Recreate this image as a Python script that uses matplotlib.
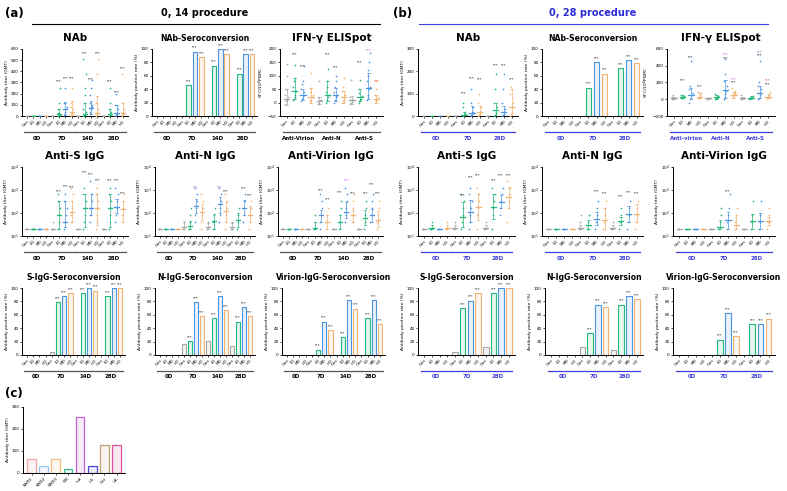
import matplotlib
matplotlib.use("Agg")
import matplotlib.pyplot as plt
from matplotlib.transforms import ScaledTranslation

W, H = 787, 491
fig = plt.figure(figsize=(W / 100, H / 100), dpi=100)

dose = ["Con", "LD", "MD", "HD"]
dose_col = ["#a6a6a6", "#22b877", "#4b94e0", "#f2b273"]
days_a = ["0D", "7D", "14D", "28D"]
days_b = ["0D", "7D", "28D"]
ifn_a = ["Anti-Virion", "Anti-N", "Anti-S"]
ifn_b = ["Anti-virion", "Anti-N", "Anti-S"]
PURPLE, RED = "#b040d8", "#e03030"

# ---------------- (a) 0, 14 procedure ----------------
a_nab_mean = [0, 0, 0, 0, 0, 20, 60, 40, 0, 20, 75, 30, 0, 15, 30, 25]
a_nab_lo = [0, 0, 0, 0, 0, 0, 10, 0, 0, 0, 20, 0, 0, 0, 0, 0]
a_nab_hi = [0, 0, 0, 0, 0, 60, 125, 130, 0, 120, 130, 180, 0, 60, 100, 120]
a_nab_star = [0, 0, 0, 0, 0, 310, 340, 340, 0, 560, 330, 560, 0, 310, 210, 430]
a_nab_pts = [
    [0, 0, 0, 0], [0, 0, 0, 0, 0], [0, 0, 0, 0], [0, 0, 0, 0],
    [0, 0, 0, 0], [0, 0, 5, 10, 20, 30, 60, 120, 250], [10, 20, 40, 60, 80, 120, 120, 250], [0, 10, 20, 30, 60, 80, 120, 250],
    [0, 0, 0, 0], [0, 5, 10, 20, 40, 60, 120, 190, 250, 380, 510], [20, 40, 60, 80, 100, 120, 190, 250, 320], [0, 10, 20, 30, 60, 120, 180, 380, 510],
    [0, 0, 0, 0], [0, 5, 10, 20, 40, 60, 120, 250], [0, 10, 20, 30, 60, 100, 200], [0, 10, 20, 40, 60, 120, 380],
]
a_nab_sero = [0, 0, 0, 0, 0, 46, 96, 88, 0, 75, 100, 92, 0, 63, 92, 92]

a_ifn_mean = [15, 42, 30, 20, 5, 30, 28, 20, 8, 22, 55, 15]
a_ifn_lo = [-10, 15, 10, 0, -5, 5, 5, 0, -5, 5, 15, 0]
a_ifn_hi = [50, 90, 50, 55, 20, 80, 55, 45, 25, 50, 110, 30]
a_ifn_star = [0, 180, 135, 0, 0, 180, 130, 0, 0, 150, 195, 80]
a_ifn_star_col = ["k", "k", "k", "k", "k", "k", "k", "k", "k", "k", PURPLE, RED]
a_ifn_pts = [
    [-5, 5, 10, 15, 20, 30, 50, 100, 145], [10, 15, 20, 30, 45, 60, 80, 90, 140],
    [5, 15, 20, 30, 40, 50, 70, 80, 135], [0, 5, 10, 20, 30, 40, 55, 110],
    [-5, 0, 5, 8, 10, 20, 80], [0, 5, 10, 20, 30, 40, 60, 80, 125],
    [0, 10, 20, 25, 30, 40, 60, 80, 100], [0, 5, 10, 20, 30, 45, 60, 90],
    [-5, 0, 5, 8, 10, 20, 85], [0, 5, 10, 15, 25, 35, 50, 85],
    [10, 20, 30, 50, 60, 80, 100, 120, 150, 185], [0, 5, 10, 15, 20, 30, 50, 80],
]

a_s_mean = [20, 20, 20, 20, 20, 80, 40, 110, 20, 160, 160, 160, 20, 160, 185, 150]
a_s_lo = [20, 20, 20, 20, 20, 20, 25, 40, 20, 25, 80, 30, 20, 25, 100, 40]
a_s_hi = [20, 20, 20, 20, 20, 320, 320, 320, 20, 700, 640, 640, 20, 700, 400, 330]
a_s_star = [0, 0, 0, 0, 0, 830, 1450, 1270, 0, 6000, 5000, 2600, 0, 2600, 2600, 700]
a_s_pts = [
    [20, 20, 20], [20, 20, 20, 20], [20, 20, 20], [20, 20, 20, 20],
    [20, 20, 20, 40], [20, 20, 40, 80, 160, 320, 640], [20, 40, 40, 80, 160, 320, 640], [40, 80, 160, 320, 640, 1280],
    [20, 20, 20], [20, 40, 80, 160, 320, 640, 1280], [40, 80, 160, 320, 640, 2560], [20, 40, 80, 160, 320, 640, 1280],
    [20, 20, 20], [20, 40, 80, 160, 320, 640, 1280], [40, 80, 160, 320, 640, 1280], [40, 80, 160, 320, 640],
]

a_n_mean = [20, 20, 20, 20, 25, 28, 200, 110, 24, 45, 250, 120, 24, 50, 170, 80]
a_n_lo = [20, 20, 20, 20, 20, 20, 100, 50, 20, 20, 100, 40, 20, 25, 80, 40]
a_n_hi = [20, 20, 20, 20, 40, 45, 400, 250, 35, 90, 500, 300, 35, 100, 350, 200]
a_n_star = [0, 0, 0, 0, 0, 0, 1300, 0, 0, 0, 1300, 900, 0, 0, 1200, 600]
a_n_star_col = ["k"] * 6 + [PURPLE] + ["k"] * 3 + [PURPLE] + ["k"] * 5
a_n_pts = [
    [20, 20, 20], [20, 20, 20], [20, 20, 20], [20, 20, 20],
    [20, 20, 40, 40], [20, 20, 40, 80, 160], [40, 80, 160, 320, 640, 1280], [20, 40, 80, 160, 320, 640],
    [20, 20, 40], [20, 40, 80, 160], [40, 80, 160, 320, 640, 1280], [20, 40, 80, 160, 320, 640],
    [20, 20, 40], [20, 40, 80, 160], [40, 80, 160, 320, 640], [20, 40, 80, 160, 320],
]

a_v_mean = [20, 20, 20, 20, 20, 22, 80, 40, 20, 40, 110, 80, 20, 60, 80, 50]
a_v_lo = [20, 20, 20, 20, 20, 20, 40, 20, 20, 20, 60, 40, 20, 30, 40, 25]
a_v_hi = [20, 20, 20, 20, 20, 40, 130, 80, 20, 80, 300, 130, 20, 130, 150, 120]
a_v_star = [0, 0, 0, 0, 0, 0, 1000, 400, 0, 800, 2500, 700, 0, 700, 1800, 700]
a_v_star_col = ["k"] * 10 + [PURPLE] + ["k"] * 5
a_v_pts = [
    [20, 20, 20], [20, 20, 20], [20, 20, 20], [20, 20, 20],
    [20, 20, 20], [20, 20, 40, 80], [20, 40, 80, 160, 320, 640], [20, 40, 80, 160],
    [20, 20, 20], [20, 40, 80, 160, 320], [40, 80, 160, 320, 640, 1280], [40, 80, 160, 320, 640],
    [20, 20, 20], [20, 40, 80, 160, 320], [40, 80, 160, 320, 640], [20, 40, 80, 160, 320],
]

a_s_sero = [0, 0, 0, 0, 4, 79, 88, 92, 0, 92, 100, 96, 0, 88, 100, 100]
a_n_sero = [0, 0, 0, 0, 17, 21, 79, 58, 21, 55, 88, 67, 13, 50, 71, 58]
a_v_sero = [0, 0, 0, 0, 0, 8, 50, 37, 0, 27, 82, 69, 0, 55, 82, 46]

# ---------------- (b) 0, 28 procedure ----------------
b_nab_mean = [0, 0, 0, 0, 0, 5, 15, 20, 0, 25, 20, 40]
b_nab_lo = [0, 0, 0, 0, 0, 0, 0, 0, 0, 0, 0, 0]
b_nab_hi = [0, 0, 0, 0, 0, 20, 45, 45, 0, 60, 45, 120]
b_nab_star = [0, 0, 0, 0, 0, 100, 170, 165, 0, 225, 225, 165]
b_nab_pts = [
    [0, 0, 0], [0, 0, 0], [0, 0, 0], [0, 0, 0],
    [0, 0, 0], [0, 0, 5, 10, 20, 40, 60], [0, 5, 10, 20, 40, 60, 120], [0, 5, 10, 20, 40, 60, 100],
    [0, 0, 0], [0, 5, 10, 20, 40, 60, 120, 190], [0, 5, 10, 20, 30, 60, 120, 190], [0, 10, 20, 40, 60, 100, 130],
]
b_nab_sero = [0, 0, 0, 0, 0, 42, 80, 63, 0, 71, 83, 79]

b_ifn_mean = [10, 25, 50, 30, 10, 25, 110, 50, 10, 20, 80, 30]
b_ifn_lo = [0, 10, 0, 10, 0, 5, 10, 20, 0, 5, 10, 15]
b_ifn_hi = [30, 50, 140, 70, 20, 50, 230, 90, 25, 40, 160, 60]
b_ifn_star = [0, 230, 500, 150, 0, 0, 540, 240, 0, 0, 560, 230]
b_ifn_star_col = ["k", "k", "k", "k", "k", "k", PURPLE, PURPLE, "k", "k", PURPLE, RED]
b_ifn_star2 = [0, 0, 0, 0, 0, 0, 490, 200, 0, 0, 520, 180]
b_ifn_pts = [
    [0, 5, 10, 15, 20, 30, 50], [10, 15, 20, 30, 40, 50], [-40, 0, 20, 50, 80, 120, 160, 460], [10, 20, 30, 50, 70, 90],
    [0, 5, 10, 15, 20], [5, 10, 20, 30, 40, 60], [0, 30, 60, 100, 160, 220, 300, 480], [20, 40, 60, 80, 100, 140],
    [0, 5, 10, 15, 20, 50], [5, 10, 20, 30, 40], [0, 20, 50, 80, 120, 160, 200, 460], [10, 20, 30, 50, 90],
]

b_s_mean = [20, 22, 20, 22, 22, 70, 110, 185, 22, 185, 310, 500]
b_s_lo = [20, 20, 20, 20, 20, 25, 40, 50, 20, 55, 160, 160]
b_s_hi = [20, 30, 20, 30, 30, 310, 360, 700, 30, 700, 600, 1350]
b_s_star = [0, 0, 0, 0, 0, 590, 3700, 4300, 0, 2600, 4300, 4300]
b_s_pts = [
    [20, 20, 20], [20, 20, 40], [20, 20, 20], [20, 20, 40],
    [20, 20, 40], [20, 40, 80, 160, 320, 640], [20, 40, 80, 160, 320, 640, 1280], [20, 80, 160, 320, 640, 1280],
    [20, 20, 40], [20, 80, 160, 320, 640, 1280], [80, 160, 320, 640, 1280], [40, 160, 320, 640, 1280, 2560],
]

b_n_mean = [20, 20, 20, 20, 22, 30, 55, 50, 22, 45, 90, 90]
b_n_lo = [20, 20, 20, 20, 20, 20, 30, 20, 20, 30, 40, 40]
b_n_hi = [20, 20, 20, 20, 30, 50, 110, 160, 30, 70, 200, 250]
b_n_star = [0, 0, 0, 0, 0, 0, 830, 700, 0, 540, 770, 700]
b_n_pts = [
    [20, 20, 20], [20, 20, 20], [20, 20, 20], [20, 20, 20],
    [20, 20, 40, 80], [20, 20, 40, 80], [20, 40, 80, 160, 320], [20, 40, 80, 160, 320],
    [20, 20, 40], [20, 40, 80, 160], [20, 40, 80, 160, 320], [20, 40, 80, 160, 320],
]

b_v_mean = [20, 20, 20, 20, 20, 25, 50, 30, 20, 45, 45, 45]
b_v_lo = [20, 20, 20, 20, 20, 20, 20, 20, 20, 20, 20, 30]
b_v_hi = [20, 20, 20, 20, 20, 50, 110, 70, 20, 90, 100, 70]
b_v_star = [0, 0, 0, 0, 0, 0, 850, 0, 0, 0, 0, 0]
b_v_pts = [
    [20, 20, 20], [20, 20, 20], [20, 20, 20], [20, 20, 20],
    [20, 20, 20], [20, 20, 40, 80, 160], [20, 40, 80, 160, 640], [20, 40, 80, 160],
    [20, 20, 20], [20, 40, 80, 320], [20, 40, 80, 320], [20, 40, 80, 160],
]

b_s_sero = [0, 0, 0, 0, 4, 70, 81, 92, 12, 92, 100, 100]
b_n_sero = [0, 0, 0, 0, 12, 33, 75, 71, 8, 75, 88, 83]
b_v_sero = [0, 0, 0, 0, 0, 23, 62, 28, 0, 46, 46, 54]

# ---------------- (c) ----------------
c_names = ["SW01", "SW02", "SW03", "WK", "Ind", "US", "Cnt", "UK"]
c_vals = [64, 32, 64, 16, 256, 32, 128, 128]
c_cols = ["#f4a3a8", "#9cc8f0", "#f7c27e", "#3cc08f", "#c45fd0", "#4a4ad0", "#c4a074", "#e2529a"]

A_LINE, B_LINE = "#555555", "#3f3fe0"


def box(x0, y0, x1, y1):
    return fig.add_axes([x0 / W, 1 - y1 / H, (x1 - x0) / W, (y1 - y0) / H])


def frame(ax, groups, line_col, text_col, ylabel, title, tsize=7.5):
    n = 4 * len(groups)
    ax.set_xlim(-0.8, n - 0.2)
    ax.set_xticks(range(n))
    ax.set_xticklabels(dose * len(groups), rotation=45, ha="right", rotation_mode="anchor")
    ax.tick_params(length=1.5, width=0.5, pad=1, labelsize=3)
    for s in ["top", "right"]:
        ax.spines[s].set_visible(False)
    for s in ["left", "bottom"]:
        ax.spines[s].set_linewidth(0.7)
    ax.set_ylabel(ylabel, fontsize=3.2, labelpad=1)
    ax.set_title(title, fontsize=tsize, fontweight="bold", pad=6)
    tl = ax.get_xaxis_transform() + ScaledTranslation(0, -0.16, fig.dpi_scale_trans)
    tt = ax.get_xaxis_transform() + ScaledTranslation(0, -0.22, fig.dpi_scale_trans)
    for i, g in enumerate(groups):
        ax.plot([4 * i - 0.45, 4 * i + 3.45], [0, 0], transform=tl, color=line_col,
                lw=0.9, clip_on=False)
        ax.text(4 * i + 1.5, 0, g, transform=tt, ha="center", va="center",
                fontsize=4, fontweight="bold", color=text_col)


def dots(ax, mean, lo, hi, pts, star, star_col=None, star2=None):
    for i in range(len(mean)):
        c = dose_col[i % 4]
        p = pts[i]
        xs = [i + ((k % 5) - 2) * 0.09 for k in range(len(p))]
        ax.scatter(xs, p, s=1.5, color=c, lw=0, zorder=3)
        ax.plot([i - 0.32, i + 0.32], [mean[i], mean[i]], color=c, lw=0.9, zorder=4)
        ax.plot([i, i], [lo[i], hi[i]], color=c, lw=0.5, zorder=4)
        for v in (lo[i], hi[i]):
            ax.plot([i - 0.16, i + 0.16], [v, v], color=c, lw=0.5, zorder=4)
        if star[i]:
            sc = star_col[i] if star_col else "k"
            ax.text(i, star[i], "***", fontsize=2.6, ha="center", va="center", color=sc)
        if star2 and star2[i]:
            ax.text(i, star2[i], "***", fontsize=2.6, ha="center", va="center", color="k")


def bars(ax, vals):
    for i, v in enumerate(vals):
        c = dose_col[i % 4]
        ax.bar(i, v, width=0.72, color=c, alpha=0.12, lw=0)
        ax.bar(i, v, width=0.72, fill=False, edgecolor=c, lw=0.8)
        if v > 0 and i % 4 != 0:
            ax.text(i, v + 3, "***", fontsize=2.6, ha="center", va="bottom")
    ax.set_ylim(0, 100)
    ax.set_yticks([0, 20, 40, 60, 80, 100])


def logaxis(ax):
    ax.set_yscale("log")
    ax.set_ylim(10, 10000)
    ax.set_yticks([10, 100, 1000, 10000])
    ax.set_yticklabels(["10$^1$", "10$^2$", "10$^3$", "10$^4$"])
    ax.minorticks_off()
    ax.tick_params(axis="y", labelsize=3)


GMT = "Antibody titer (GMT)"
POS = "Antibody positive rate (%)"
SFC = "SFC/10$^6$PBMC"
ST = 5.6  # seroconversion title size

# headers
fig.text(5 / W, 1 - 13 / H, "(a)", fontsize=8.5, fontweight="bold", va="center")
fig.text(205 / W, 1 - 13 / H, "0, 14 procedure", fontsize=7, fontweight="bold", ha="center", va="center")
fig.add_artist(plt.Line2D([32 / W, 380 / W], [1 - 24 / H, 1 - 24 / H], color="k", lw=0.8))
fig.text(393 / W, 1 - 13 / H, "(b)", fontsize=8.5, fontweight="bold", va="center")
fig.text(593 / W, 1 - 13 / H, "0, 28 procedure", fontsize=7, fontweight="bold", ha="center",
         va="center", color="#2b2bd6")
fig.add_artist(plt.Line2D([419 / W, 768 / W], [1 - 24 / H, 1 - 24 / H], color=B_LINE, lw=0.8))

# ---- (a) row 1
ax = box(22, 49, 128, 116)
dots(ax, a_nab_mean, a_nab_lo, a_nab_hi, a_nab_pts, a_nab_star)
ax.set_ylim(0, 600)
ax.set_yticks(range(0, 601, 100))
frame(ax, days_a, A_LINE, "k", GMT, "NAb")

ax = box(152, 49, 257, 116)
bars(ax, a_nab_sero)
frame(ax, days_a, A_LINE, "k", POS, "NAb-Seroconversion", ST)

ax = box(280, 49, 383, 116)
dots(ax, a_ifn_mean, a_ifn_lo, a_ifn_hi, a_ifn_pts, a_ifn_star, a_ifn_star_col)
ax.set_ylim(-50, 200)
ax.set_yticks(range(-50, 201, 50))
frame(ax, ifn_a, A_LINE, "k", SFC, "IFN-γ ELISpot")

# ---- (a) row 2
ax = box(22, 167, 128, 236)
dots(ax, a_s_mean, a_s_lo, a_s_hi, a_s_pts, a_s_star)
logaxis(ax)
frame(ax, days_a, A_LINE, "k", GMT, "Anti-S IgG")

ax = box(155, 167, 255, 236)
dots(ax, a_n_mean, a_n_lo, a_n_hi, a_n_pts, a_n_star, a_n_star_col)
logaxis(ax)
frame(ax, days_a, A_LINE, "k", GMT, "Anti-N IgG")

ax = box(278, 167, 383, 236)
dots(ax, a_v_mean, a_v_lo, a_v_hi, a_v_pts, a_v_star, a_v_star_col)
logaxis(ax)
frame(ax, days_a, A_LINE, "k", GMT, "Anti-Virion IgG")

# ---- (a) row 3
ax = box(22, 288, 125, 355)
bars(ax, a_s_sero)
frame(ax, days_a, A_LINE, "k", POS, "S-IgG-Seroconversion", ST)

ax = box(155, 288, 255, 355)
bars(ax, a_n_sero)
frame(ax, days_a, A_LINE, "k", POS, "N-IgG-Seroconversion", ST)

ax = box(282, 288, 385, 355)
bars(ax, a_v_sero)
frame(ax, days_a, A_LINE, "k", POS, "Virion-IgG-Seroconversion", ST)

# ---- (b) row 1
ax = box(418, 49, 518, 116)
dots(ax, b_nab_mean, b_nab_lo, b_nab_hi, b_nab_pts, b_nab_star)
ax.set_ylim(0, 300)
ax.set_yticks([0, 100, 200, 300])
frame(ax, days_b, B_LINE, B_LINE, GMT, "NAb")

ax = box(542, 49, 643, 116)
bars(ax, b_nab_sero)
frame(ax, days_b, B_LINE, B_LINE, POS, "NAb-Seroconversion", ST)

ax = box(667, 49, 775, 116)
dots(ax, b_ifn_mean, b_ifn_lo, b_ifn_hi, b_ifn_pts, b_ifn_star, b_ifn_star_col, b_ifn_star2)
ax.set_ylim(-200, 600)
ax.set_yticks([-200, 0, 200, 400, 600])
frame(ax, ifn_b, B_LINE, B_LINE, SFC, "IFN-γ ELISpot")

# ---- (b) row 2
ax = box(418, 167, 515, 236)
dots(ax, b_s_mean, b_s_lo, b_s_hi, b_s_pts, b_s_star)
logaxis(ax)
frame(ax, days_b, B_LINE, B_LINE, GMT, "Anti-S IgG")

ax = box(542, 167, 643, 236)
dots(ax, b_n_mean, b_n_lo, b_n_hi, b_n_pts, b_n_star)
logaxis(ax)
frame(ax, days_b, B_LINE, B_LINE, GMT, "Anti-N IgG")

ax = box(673, 167, 775, 236)
dots(ax, b_v_mean, b_v_lo, b_v_hi, b_v_pts, b_v_star)
logaxis(ax)
frame(ax, days_b, B_LINE, B_LINE, GMT, "Anti-Virion IgG")

# ---- (b) row 3
ax = box(418, 288, 515, 355)
bars(ax, b_s_sero)
frame(ax, days_b, B_LINE, B_LINE, POS, "S-IgG-Seroconversion", ST)

ax = box(545, 288, 643, 355)
bars(ax, b_n_sero)
frame(ax, days_b, B_LINE, B_LINE, POS, "N-IgG-Seroconversion", ST)

ax = box(673, 288, 775, 355)
bars(ax, b_v_sero)
frame(ax, days_b, B_LINE, B_LINE, POS, "Virion-IgG-Seroconversion", ST)

# ---- (c)
fig.text(5 / W, 1 - 393 / H, "(c)", fontsize=8.5, fontweight="bold", va="center")
ax = box(23, 407, 125, 473)
for i, v in enumerate(c_vals):
    ax.bar(i, v, width=0.72, color=c_cols[i], alpha=0.12, lw=0)
    ax.bar(i, v, width=0.72, fill=False, edgecolor=c_cols[i], lw=0.9)
ax.set_xlim(-0.7, len(c_vals) - 0.3)
ax.set_ylim(0, 300)
ax.set_yticks([0, 100, 200, 300])
ax.set_xticks(range(len(c_vals)))
ax.set_xticklabels(c_names, rotation=45, ha="right", rotation_mode="anchor")
ax.tick_params(length=1.5, width=0.5, pad=1, labelsize=3)
for s in ["top", "right"]:
    ax.spines[s].set_visible(False)
for s in ["left", "bottom"]:
    ax.spines[s].set_linewidth(0.7)
ax.set_ylabel(GMT, fontsize=3.2, labelpad=1)

fig.savefig("out.png", dpi=100)
